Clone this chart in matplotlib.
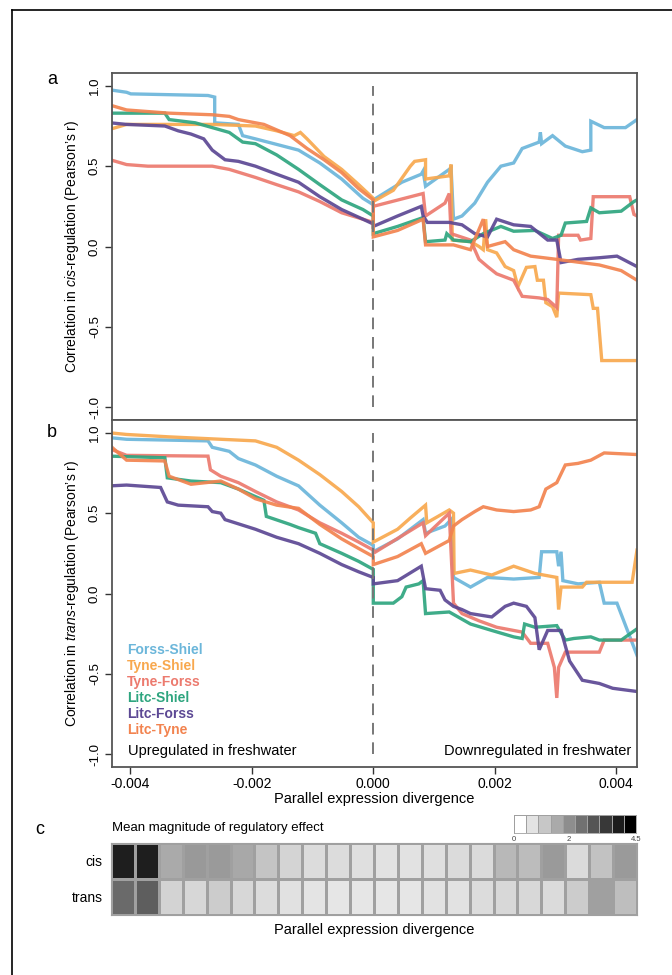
#!/usr/bin/env python3
"""Parallel expression divergence vs correlation in cis / trans regulation (panels a, b)
plus mean magnitude of regulatory effect heatmap (panel c)."""
import matplotlib
matplotlib.use("Agg")
import matplotlib.pyplot as plt
import numpy as np
from matplotlib.lines import Line2D

plt.rcParams["font.family"] = ["Liberation Sans", "DejaVu Sans"]
plt.rcParams["axes.unicode_minus"] = False
plt.rcParams["mathtext.fontset"] = "custom"
plt.rcParams["mathtext.it"] = "Liberation Sans:italic"
plt.rcParams["mathtext.rm"] = "Liberation Sans"

# x values in units of 1e-3 (parallel expression divergence)
XSCALE = 1e-3

PAIRS = ["Forss-Shiel", "Tyne-Shiel", "Tyne-Forss", "Litc-Shiel", "Litc-Forss", "Litc-Tyne"]
COLORS = ["#6BB6DA", "#F8A84E", "#EC7A6E", "#2EA57F", "#5C4894", "#F2834F"]

# ---- panel a: cis ----
cis_forss_shiel = [(-4.33, 0.975), (-4.06, 0.96), (-3.99, 0.95), (-2.72, 0.94), (-2.61, 0.93), (-2.61, 0.77),
                   (-2.22, 0.76), (-2.15, 0.69), (-1.94, 0.67), (-1.23, 0.60), (-0.88, 0.52), (-0.52, 0.42),
                   (-0.17, 0.30), (0.0, 0.26), (0.0, 0.29), (0.47, 0.40), (0.79, 0.45), (0.82, 0.47),
                   (0.86, 0.375), (1.25, 0.48), (1.28, 0.49), (1.32, 0.17), (1.46, 0.19), (1.67, 0.27),
                   (1.88, 0.40), (2.10, 0.50), (2.31, 0.52), (2.45, 0.61), (2.73, 0.65), (2.75, 0.71),
                   (2.77, 0.64), (2.95, 0.69), (3.16, 0.625), (3.44, 0.59), (3.58, 0.60), (3.58, 0.78),
                   (3.80, 0.74), (4.15, 0.74), (4.34, 0.79)]
cis_tyne_shiel = [(-4.33, 0.73), (-4.06, 0.76), (-2.65, 0.76), (-1.94, 0.75), (-1.59, 0.72), (-1.30, 0.69),
                  (-1.20, 0.71), (-1.09, 0.67), (-0.81, 0.56), (-0.52, 0.48), (-0.24, 0.385), (0.0, 0.30),
                  (0.0, 0.28), (0.33, 0.35), (0.61, 0.50), (0.68, 0.53), (0.86, 0.54), (0.86, 0.42),
                  (1.25, 0.44), (1.28, 0.51), (1.30, 0.04), (1.60, 0.03), (1.74, 0.0), (1.81, -0.02),
                  (1.85, 0.17), (1.88, -0.02), (2.03, -0.04), (2.17, -0.125), (2.31, -0.15), (2.38, -0.25),
                  (2.52, -0.13), (2.66, -0.125), (2.70, -0.21), (2.80, -0.21), (2.84, -0.35), (2.95, -0.375),
                  (3.02, -0.44), (3.05, -0.29), (3.58, -0.30), (3.62, -0.385), (3.69, -0.385), (3.76, -0.71),
                  (4.34, -0.71)]
cis_tyne_forss = [(-4.33, 0.54), (-4.06, 0.51), (-3.71, 0.50), (-2.65, 0.50), (-2.37, 0.48), (-1.94, 0.43),
                  (-1.59, 0.385), (-1.23, 0.34), (-0.88, 0.28), (-0.52, 0.21), (-0.17, 0.17), (0.0, 0.15),
                  (0.0, 0.25), (0.82, 0.33), (0.86, 0.19), (1.18, 0.27), (1.25, 0.33), (1.28, 0.08),
                  (1.60, 0.04), (1.74, -0.08), (1.88, -0.125), (2.03, -0.17), (2.31, -0.21), (2.45, -0.31),
                  (2.73, -0.32), (2.87, -0.33), (3.02, -0.38), (3.05, 0.07), (3.37, 0.07), (3.41, 0.04),
                  (3.58, 0.05), (3.62, 0.31), (4.22, 0.31), (4.29, 0.20), (4.34, 0.19)]
cis_litc_shiel = [(-4.33, 0.83), (-3.43, 0.83), (-3.36, 0.79), (-2.93, 0.77), (-2.65, 0.74), (-2.37, 0.71),
                  (-2.15, 0.65), (-1.94, 0.64), (-1.59, 0.57), (-1.23, 0.48), (-0.88, 0.385), (-0.52, 0.29),
                  (-0.17, 0.23), (0.0, 0.19), (0.0, 0.08), (0.40, 0.125), (0.82, 0.18), (0.86, 0.03),
                  (1.18, 0.04), (1.21, 0.08), (1.32, 0.04), (1.60, 0.03), (1.81, 0.08), (2.10, 0.125),
                  (2.31, 0.095), (2.66, 0.10), (2.95, 0.05), (3.09, 0.07), (3.16, 0.146), (3.51, 0.156),
                  (3.58, 0.24), (3.72, 0.21), (4.08, 0.22), (4.29, 0.28), (4.34, 0.29)]
cis_litc_forss = [(-4.33, 0.77), (-4.06, 0.76), (-3.43, 0.75), (-3.21, 0.72), (-3.00, 0.70), (-2.79, 0.67),
                  (-2.65, 0.60), (-2.44, 0.54), (-2.22, 0.53), (-1.94, 0.50), (-1.59, 0.45), (-1.23, 0.40),
                  (-0.88, 0.31), (-0.52, 0.23), (-0.17, 0.17), (0.0, 0.14), (0.0, 0.125), (0.40, 0.19),
                  (0.79, 0.25), (0.82, 0.19), (0.89, 0.15), (1.25, 0.15), (1.46, 0.135), (1.67, 0.08),
                  (1.88, 0.06), (2.03, 0.17), (2.31, 0.135), (2.59, 0.125), (2.87, 0.04), (3.02, 0.04),
                  (3.09, -0.10), (3.37, -0.08), (3.72, -0.07), (4.01, -0.06), (4.34, -0.125)]
cis_litc_tyne = [(-4.33, 0.88), (-4.06, 0.85), (-3.36, 0.83), (-2.65, 0.82), (-2.37, 0.81), (-2.22, 0.79),
                 (-1.80, 0.76), (-1.37, 0.69), (-1.09, 0.61), (-0.81, 0.54), (-0.52, 0.46), (-0.24, 0.36),
                 (0.0, 0.29), (0.0, 0.06), (0.40, 0.10), (0.82, 0.17), (0.86, 0.01), (1.32, 0.01),
                 (1.60, -0.02), (1.81, 0.17), (1.88, 0.0), (2.17, 0.03), (2.31, -0.02), (2.59, -0.06),
                 (3.02, -0.08), (3.72, -0.115), (4.08, -0.15), (4.34, -0.21)]

# ---- panel b: trans ----
trans_forss_shiel = [(-4.33, 0.97), (-4.06, 0.96), (-2.72, 0.95), (-2.65, 0.91), (-2.37, 0.885), (-2.22, 0.84),
                     (-1.94, 0.80), (-1.59, 0.73), (-1.23, 0.67), (-0.88, 0.55), (-0.52, 0.44), (-0.24, 0.35),
                     (0.0, 0.30), (0.0, 0.26), (0.40, 0.34), (0.82, 0.46), (0.86, 0.375), (1.18, 0.42),
                     (1.28, 0.46), (1.32, 0.10), (1.60, 0.04), (1.88, 0.10), (2.31, 0.09), (2.73, 0.10),
                     (2.77, 0.26), (3.02, 0.26), (3.05, 0.17), (3.09, 0.26), (3.12, 0.08), (3.37, 0.06),
                     (3.72, 0.07), (3.80, -0.06), (4.01, -0.06), (4.34, -0.385)]
trans_tyne_shiel = [(-4.33, 1.0), (-4.06, 0.99), (-3.36, 0.975), (-1.94, 0.95), (-1.59, 0.91), (-1.23, 0.83),
                    (-0.88, 0.74), (-0.52, 0.635), (-0.24, 0.54), (0.0, 0.44), (0.0, 0.32), (0.40, 0.40),
                    (0.61, 0.47), (0.86, 0.55), (0.88, 0.44), (1.25, 0.52), (1.32, 0.50), (1.33, 0.125),
                    (1.60, 0.146), (1.95, 0.115), (2.31, 0.17), (2.66, 0.125), (3.02, 0.10), (3.05, -0.10),
                    (3.09, 0.04), (3.44, 0.04), (3.51, 0.07), (4.26, 0.07), (4.34, 0.27)]
trans_tyne_forss = [(-4.33, 0.90), (-4.06, 0.86), (-2.72, 0.855), (-2.68, 0.77), (-2.51, 0.73), (-2.22, 0.69),
                    (-1.94, 0.635), (-1.59, 0.57), (-1.23, 0.52), (-0.88, 0.44), (-0.52, 0.375), (-0.24, 0.32),
                    (0.0, 0.27), (0.0, 0.25), (0.82, 0.44), (0.86, 0.36), (1.25, 0.50), (1.32, -0.06),
                    (1.46, -0.125), (1.74, -0.17), (2.03, -0.21), (2.45, -0.24), (2.59, -0.31), (2.87, -0.31),
                    (2.98, -0.46), (3.02, -0.65), (3.05, -0.46), (3.16, -0.365), (3.72, -0.365), (3.80, -0.29),
                    (4.34, -0.29)]
trans_litc_shiel = [(-4.33, 0.855), (-3.43, 0.845), (-3.39, 0.72), (-3.00, 0.70), (-2.51, 0.69), (-2.22, 0.65),
                    (-1.80, 0.58), (-1.76, 0.48), (-1.37, 0.43), (-1.23, 0.41), (-0.95, 0.375), (-0.88, 0.31),
                    (-0.52, 0.25), (-0.24, 0.20), (0.0, 0.15), (0.0, -0.06), (0.33, -0.06), (0.47, -0.02),
                    (0.54, 0.04), (0.75, 0.06), (0.82, 0.08), (0.86, -0.125), (1.25, -0.115), (1.60, -0.19),
                    (1.95, -0.23), (2.31, -0.27), (2.45, -0.28), (2.49, -0.19), (2.66, -0.21), (3.02, -0.20),
                    (3.16, -0.29), (3.30, -0.28), (3.58, -0.27), (3.72, -0.29), (4.08, -0.29), (4.34, -0.22)]
trans_litc_forss = [(-4.33, 0.67), (-4.06, 0.675), (-3.50, 0.66), (-3.39, 0.57), (-3.21, 0.55), (-2.72, 0.54),
                    (-2.65, 0.51), (-2.51, 0.50), (-2.44, 0.46), (-1.94, 0.40), (-1.59, 0.35), (-1.23, 0.31),
                    (-0.88, 0.25), (-0.52, 0.18), (-0.24, 0.135), (0.0, 0.10), (0.0, 0.06), (0.40, 0.08),
                    (0.79, 0.17), (0.86, 0.03), (1.10, 0.02), (1.18, -0.04), (1.32, -0.08), (1.46, -0.10),
                    (1.60, -0.125), (1.95, -0.146), (2.17, -0.08), (2.31, -0.06), (2.52, -0.08), (2.66, -0.15),
                    (2.73, -0.35), (2.87, -0.23), (3.09, -0.23), (3.23, -0.42), (3.44, -0.54), (3.72, -0.56),
                    (3.94, -0.59), (4.34, -0.61)]
trans_litc_tyne = [(-4.33, 0.92), (-4.06, 0.83), (-3.43, 0.825), (-3.36, 0.73), (-3.00, 0.68), (-2.51, 0.70),
                   (-2.22, 0.65), (-1.94, 0.59), (-1.59, 0.55), (-1.23, 0.53), (-0.88, 0.43), (-0.52, 0.34),
                   (-0.24, 0.28), (0.0, 0.23), (0.0, 0.18), (0.40, 0.23), (0.79, 0.31), (0.86, 0.25),
                   (1.25, 0.33), (1.32, 0.42), (1.46, 0.46), (1.67, 0.51), (1.81, 0.54), (2.03, 0.52),
                   (2.31, 0.51), (2.59, 0.52), (2.73, 0.54), (2.84, 0.65), (3.02, 0.69), (3.16, 0.80),
                   (3.37, 0.81), (3.58, 0.83), (3.80, 0.875), (4.34, 0.865)]

CIS = [cis_forss_shiel, cis_tyne_shiel, cis_tyne_forss, cis_litc_shiel, cis_litc_forss, cis_litc_tyne]
TRANS = [trans_forss_shiel, trans_tyne_shiel, trans_tyne_forss, trans_litc_shiel, trans_litc_forss, trans_litc_tyne]

# ---- panel c: mean magnitude of regulatory effect (22 bins) ----
heat_rows = ["cis", "trans"]
heat_cis = [3.97, 3.97, 1.50, 1.80, 1.78, 1.53, 1.04, 0.76, 0.62, 0.62, 0.58, 0.51,
            0.51, 0.58, 0.65, 0.65, 1.25, 1.18, 1.78, 0.65, 1.08, 1.78]
heat_trans = [2.63, 2.84, 0.79, 0.72, 0.90, 0.72, 0.62, 0.53, 0.48, 0.44, 0.44, 0.44,
              0.44, 0.51, 0.51, 0.62, 0.69, 0.69, 0.65, 0.90, 1.68, 1.16]
cbar_levels = [0.0, 0.5, 1.0, 1.5, 2.0, 2.5, 3.0, 3.5, 4.0, 4.5]
cbar_ticks = [0, 2, 4.5]

W, H = 672, 975
fig = plt.figure(figsize=(W / 100, H / 100), dpi=100)


def fr(x0, y0, x1, y1):
    """pixel box (top-left origin) -> figure rect"""
    return [x0 / W, 1 - y1 / H, (x1 - x0) / W, (y1 - y0) / H]


ax_a = fig.add_axes(fr(112, 73, 637, 420))
ax_b = fig.add_axes(fr(112, 420, 637, 767))

for ax, data, word in [(ax_a, CIS, "cis"), (ax_b, TRANS, "trans")]:
    for series, color in zip(data, COLORS):
        xs = np.array([p[0] for p in series]) * XSCALE
        ys = np.array([p[1] for p in series])
        ax.plot(xs, ys, color=color, lw=2.4, alpha=0.92, solid_joinstyle="miter")
    ax.plot([0, 0], [-1.0, 1.0], color="#777777", lw=1.4, dashes=(6, 4))
    ax.set_xlim(-0.0043, 0.00434)
    ax.set_ylim(-1.08, 1.08)
    ax.set_yticks([-1.0, -0.5, 0.0, 0.5, 1.0])
    ax.set_yticklabels(["-1.0", "-0.5", "0.0", "0.5", "1.0"], rotation=90, va="center", fontsize=9.5)
    ax.tick_params(axis="y", length=5, width=1.0, color="#333333", pad=3)
    ax.set_ylabel(r"Correlation in $\it{%s}$-regulation (Pearson’s r)" % word, fontsize=10, labelpad=6)
    for sp in ax.spines.values():
        sp.set_color("#555555")
        sp.set_linewidth(1.3)

ax_a.set_xticks([])
ax_b.set_xticks([-0.004, -0.002, 0.0, 0.002, 0.004])
ax_b.set_xticklabels(["-0.004", "-0.002", "0.000", "0.002", "0.004"], fontsize=10)
ax_b.tick_params(axis="x", length=5, width=1.0, color="#333333", pad=2)
ax_b.set_xlabel("Parallel expression divergence", fontsize=10.5, labelpad=1)

for i, (name, color) in enumerate(zip(PAIRS, COLORS)):
    ax_b.text(0.029, 0.337 - i * 0.0461, name, color=color, fontsize=10, fontweight="bold",
              transform=ax_b.transAxes, va="center", ha="left")
ax_b.text(0.030, 0.046, "Upregulated in freshwater", fontsize=10.5, transform=ax_b.transAxes,
          va="center", ha="left")
ax_b.text(0.989, 0.046, "Downregulated in freshwater", fontsize=10.5, transform=ax_b.transAxes,
          va="center", ha="right")

fig.text(52 / W, 1 - 80 / H, "a", fontsize=13, ha="center", va="center")
fig.text(52 / W, 1 - 432 / H, "b", fontsize=13, ha="center", va="center")

# ---- panel c ----
ax_c = fig.add_axes(fr(111, 843, 637, 915))
heat = np.array([heat_cis, heat_trans])
ax_c.pcolormesh(heat, cmap="gray_r", vmin=0, vmax=4.5, edgecolors="#a0a0a0", linewidth=0.8)
ax_c.set_xlim(0, heat.shape[1])
ax_c.set_ylim(2, 0)
ax_c.set_xticks([])
ax_c.set_yticks([0.5, 1.5])
ax_c.set_yticklabels(heat_rows, fontsize=10)
ax_c.tick_params(axis="y", length=0, pad=6)
for sp in ax_c.spines.values():
    sp.set_color("#a0a0a0")
    sp.set_linewidth(0.8)
ax_c.set_xlabel("Parallel expression divergence", fontsize=10.5, labelpad=6)

fig.text(40 / W, 1 - 830 / H, "c", fontsize=13, ha="center", va="center")
fig.text(112 / W, 1 - 828 / H, "Mean magnitude of regulatory effect", fontsize=9.5, ha="left", va="center")

ax_cb = fig.add_axes(fr(514, 815, 636, 833))
edges = np.linspace(0, 4.5, len(cbar_levels) + 1)
ax_cb.pcolormesh(edges, [0, 1], np.array([cbar_levels]), cmap="gray_r", vmin=0, vmax=4.5,
                 edgecolors="#a0a0a0", linewidth=0.6)
ax_cb.set_xlim(0, 4.5)
ax_cb.set_ylim(0, 1)
ax_cb.set_yticks([])
ax_cb.set_xticks(cbar_ticks)
ax_cb.set_xticklabels(["0", "2", "4.5"], fontsize=5.5, color="#444444")
ax_cb.tick_params(axis="x", length=0, pad=2)
for sp in ax_cb.spines.values():
    sp.set_color("#a0a0a0")
    sp.set_linewidth(0.6)

# partial frame round the figure (top and left)
fig.add_artist(Line2D([12 / W, 1.0], [1 - 10 / H, 1 - 10 / H], color="black", lw=1.2,
                      transform=fig.transFigure))
fig.add_artist(Line2D([12 / W, 12 / W], [0.0, 1 - 10 / H], color="black", lw=1.2,
                      transform=fig.transFigure))

fig.savefig("out.png", dpi=100)
